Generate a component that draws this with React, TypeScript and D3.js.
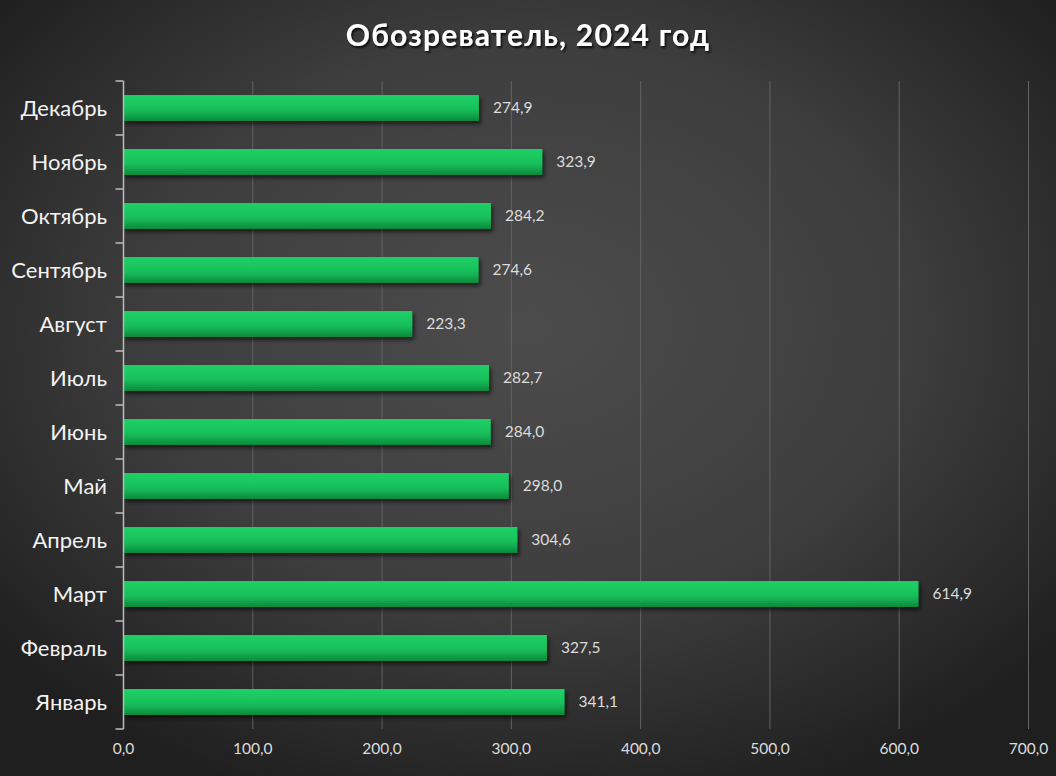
import React from "react";
import * as d3 from "d3";

const months = ["Январь", "Февраль", "Март", "Апрель", "Май", "Июнь", "Июль", "Август", "Сентябрь", "Октябрь", "Ноябрь", "Декабрь"];
const values = [341.1, 327.5, 614.9, 304.6, 298.0, 284.0, 282.7, 223.3, 274.6, 284.2, 323.9, 274.9];
const xTicks = [0, 100, 200, 300, 400, 500, 600, 700];
const title = "Обозреватель, 2024 год";

const W = 1056;
const H = 776;
const fmt = (v: number) => v.toFixed(1).replace(".", ",");

export default function App() {
  const x = d3.scaleLinear().domain([0, 700]).range([123.5, 1028.5]);
  const order = [...months].reverse();
  const y = d3.scaleBand<string>().domain(order).range([81, 729]).paddingInner(0.52).paddingOuter(0.26);
  const step = y.step();
  const font = "Lato, 'Open Sans', sans-serif";
  return (
    <svg width={W} height={H} style={{ position: "absolute", left: 0, top: 0 }}>
      <defs>
        <radialGradient id="bg" cx="50%" cy="42%" r="65%">
          <stop offset="0%" stopColor="#4c4c4c" />
          <stop offset="55%" stopColor="#3e3e3e" />
          <stop offset="100%" stopColor="#1f1f1f" />
        </radialGradient>
        <linearGradient id="bar" x1="0" y1="0" x2="0" y2="1">
          <stop offset="0%" stopColor="#1dd066" />
          <stop offset="55%" stopColor="#18c05b" />
          <stop offset="100%" stopColor="#0c8a3c" />
        </linearGradient>
        <filter id="shadow" x="-5%" y="-30%" width="110%" height="170%">
          <feDropShadow dx="2" dy="3" stdDeviation="2" floodColor="#000" floodOpacity="0.6" />
        </filter>
        <filter id="tshadow" x="-5%" y="-30%" width="110%" height="170%">
          <feDropShadow dx="1.5" dy="2" stdDeviation="1.2" floodColor="#000" floodOpacity="0.8" />
        </filter>
      </defs>
      <rect x={0} y={0} width={W} height={H} fill="url(#bg)" />
      <text x={528} y={46} textAnchor="middle" fill="#ffffff" fontFamily={font} fontWeight="bold" fontSize={30} letterSpacing={1.2} filter="url(#tshadow)">
        {title}
      </text>
      {xTicks.filter((t) => t > 0).map((t) => (
        <line key={t} x1={x(t)} x2={x(t)} y1={81} y2={729} stroke="#626262" strokeWidth={1} />
      ))}
      {order.map((m) => {
        const i = months.indexOf(m);
        const v = values[i];
        const yy = y(m)!;
        return (
          <g key={m}>
            <rect x={x(0)} y={yy} width={x(v) - x(0)} height={y.bandwidth()} fill="url(#bar)" filter="url(#shadow)" />
            <text x={x(v) + 14} y={yy + y.bandwidth() / 2} dy="0.35em" fill="#dcdcdc" fontFamily={font} fontSize={15.5}>
              {fmt(v)}
            </text>
            <text x={107} y={yy + y.bandwidth() / 2} dy="0.35em" textAnchor="end" fill="#f2f2f2" fontFamily={font} fontSize={22}>
              {m}
            </text>
          </g>
        );
      })}
      <line x1={x(0)} x2={x(0)} y1={81} y2={729} stroke="#bdbdbd" strokeWidth={1.5} />
      {d3.range(13).map((k) => {
        const ty = 81 + k * step;
        return <line key={k} x1={x(0) - 8} x2={x(0)} y1={ty} y2={ty} stroke="#bdbdbd" strokeWidth={1.5} />;
      })}
      {xTicks.map((t) => (
        <text key={t} x={x(t)} y={749} dy="0.35em" textAnchor="middle" fill="#dcdcdc" fontFamily={font} fontSize={15.5}>
          {fmt(t)}
        </text>
      ))}
    </svg>
  );
}
